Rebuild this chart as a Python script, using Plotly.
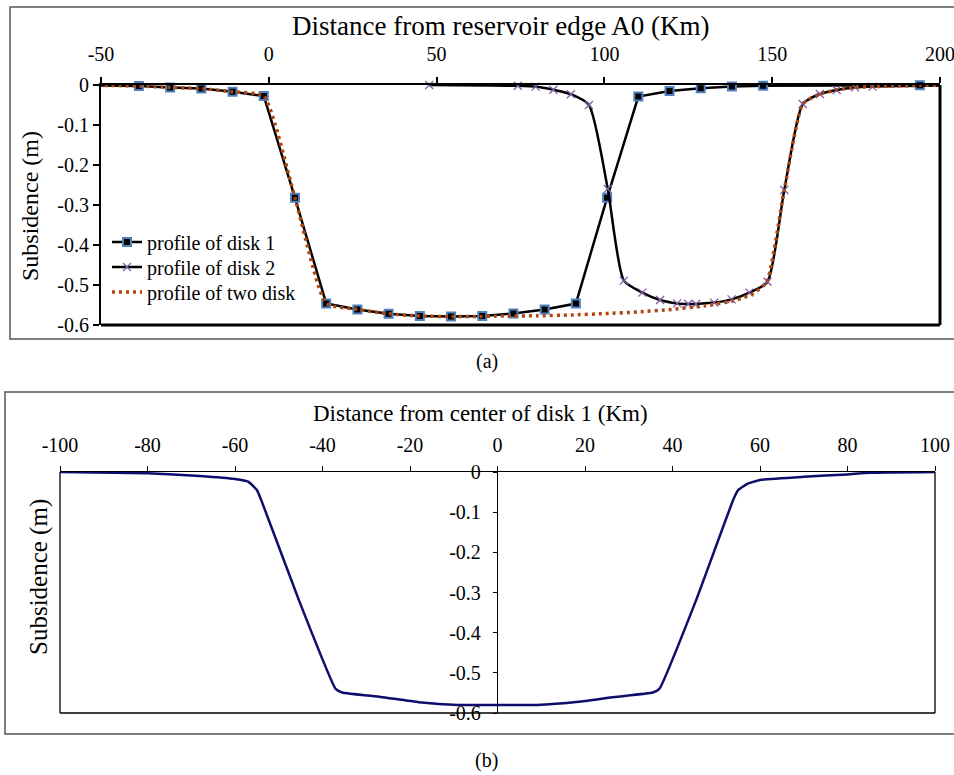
import plotly.graph_objects as go

# ---------------- data : panel (a) ----------------
disk1_x = [-57.3, -38.7, -29.4, -20.1, -10.8, -1.5, 7.8, 17.1, 26.4, 35.7, 45.0, 54.3,
           63.6, 72.9, 82.2, 91.5, 100.8, 110.1, 119.4, 128.7, 138.0, 147.3, 194.0, 203.3]
disk1_y = [0, -0.0025, -0.006, -0.009, -0.017, -0.0275, -0.282, -0.546, -0.561, -0.572, -0.5775, -0.579,
           -0.5775, -0.5715, -0.561, -0.5465, -0.282, -0.029, -0.015, -0.008, -0.004, -0.002, -0.0005, 0]

disk2_x = [47.8, 74.2, 79.5, 84.8, 90.0, 95.4, 101.0, 105.8, 111.3, 116.6, 121.7, 125.0,
           127.3, 132.7, 137.9, 143.2, 148.6, 153.6, 159.1, 164.2, 169.2, 174.7, 179.9, 206.6]
disk2_y = [0, -0.002, -0.004, -0.012, -0.023, -0.05, -0.26, -0.489, -0.519, -0.5375, -0.546, -0.5475,
           -0.5475, -0.544, -0.536, -0.519, -0.492, -0.2625, -0.0475, -0.0225, -0.0125, -0.006, -0.004, 0]

two_x = [-57.3, -38.7, -29.4, -20.1, -10.8, -1.5, 7.8, 17.1, 26.4, 35.7, 45.0, 54.3, 60, 70, 80, 90,
         100, 110, 120, 130, 139.4, 144.4, 148.4, 153.6, 159.1, 164.2, 169.2, 174.7, 179.9, 194, 206.6]
two_y = [0, -0.0025, -0.006, -0.009, -0.017, -0.0275, -0.282, -0.546, -0.561, -0.572, -0.5775, -0.579,
         -0.579, -0.5775, -0.577, -0.575, -0.5715, -0.5675, -0.561, -0.552, -0.5375, -0.521, -0.492,
         -0.2625, -0.0475, -0.0225, -0.0125, -0.006, -0.004, -0.001, 0]

a_xticks = [-50, 0, 50, 100, 150, 200]
a_xtext = ["-50", "0", "50", "100", "150", "200"]
a_yticks = [0, -0.1, -0.2, -0.3, -0.4, -0.5, -0.6]
a_ytext = ["0", "-0.1", "-0.2", "-0.3", "-0.4", "-0.5", "-0.6"]

# ---------------- data : panel (b) ----------------
b_x = [-100, -80, -68, -60, -57, -55, -54, -45.4, -37, -35.5, -26.7, -18, -9, 0,
       9, 18.5, 26.7, 35.5, 37, 45.4, 54, 55, 57, 60, 70, 80, 85, 100]
b_y = [0, -0.003, -0.01, -0.0175, -0.024, -0.045, -0.07, -0.319, -0.54, -0.549, -0.56, -0.573, -0.58, -0.58,
       -0.58, -0.572, -0.56, -0.549, -0.54, -0.319, -0.066, -0.045, -0.03, -0.02, -0.012, -0.006, -0.002, 0]

b_xticks = [-100, -80, -60, -40, -20, 0, 20, 40, 60, 80, 100]
b_xtext = ["-100", "-80", "-60", "-40", "-20", "0", "20", "40", "60", "80", "100"]
b_yticks = [0, -0.1, -0.2, -0.3, -0.4, -0.5, -0.6]
b_ytext = ["0", "-0.1", "-0.2", "-0.3", "-0.4", "-0.5", "-0.6"]

W, H = 954, 775
FONT = "Liberation Serif, Times New Roman, serif"


def px_x(p):
    return p / W


def px_y(p):
    return 1 - p / H


fig = go.Figure()

fig.add_trace(go.Scatter(
    x=disk1_x, y=disk1_y, name="profile of disk 1", mode="lines+markers",
    line=dict(color="black", width=2.5),
    marker=dict(symbol="square", size=8, color="black", line=dict(color="#4F81BD", width=2)),
    cliponaxis=False, xaxis="x", yaxis="y", legend="legend"))

fig.add_trace(go.Scatter(
    x=disk2_x, y=disk2_y, name="profile of disk 2", mode="lines+markers",
    line=dict(color="black", width=2.5, shape="spline", smoothing=0.6),
    marker=dict(symbol="x-thin", size=8, color="#7F60A8", line=dict(color="#7F60A8", width=1.3)),
    cliponaxis=False, xaxis="x", yaxis="y", legend="legend2"))

fig.add_trace(go.Scatter(
    x=two_x, y=two_y, name="profile of two disk", mode="lines",
    line=dict(color="#B0450F", width=3.5, dash="3px,4px", shape="spline", smoothing=0.5),
    cliponaxis=False, xaxis="x", yaxis="y", legend="legend3"))

fig.add_trace(go.Scatter(
    x=b_x, y=b_y, name="disk 1", mode="lines", showlegend=False,
    line=dict(color="#0D0D6B", width=2.5, shape="spline", smoothing=0.4),
    xaxis="x2", yaxis="y2"))

a_dom_x = [px_x(101), px_x(940)]
a_dom_y = [px_y(325), px_y(85)]
b_dom_x = [px_x(60), px_x(935)]
b_dom_y = [px_y(713), px_y(472)]

tick_font = dict(family=FONT, size=20, color="black")


def leg(ypx):
    return dict(x=px_x(107), y=px_y(ypx), xanchor="left", yanchor="middle",
                bgcolor="rgba(0,0,0,0)", font=dict(family=FONT, size=20, color="black"),
                itemwidth=30)


fig.update_layout(
    width=W, height=H, margin=dict(l=0, r=0, t=0, b=0, autoexpand=False),
    paper_bgcolor="white", plot_bgcolor="white",
    font=dict(family=FONT, color="black"),
    xaxis=dict(domain=a_dom_x, range=[-50, 200], anchor="y", side="top", automargin=False,
               showline=True, linecolor="black", linewidth=2.2,
               ticks="outside", ticklen=6, tickwidth=2, tickcolor="black",
               tickvals=a_xticks, ticktext=a_xtext, tickfont=tick_font,
               ticklabelstandoff=8, ticklabeloverflow="allow",
               showgrid=False, zeroline=False),
    xaxis3=dict(overlaying="x", range=[-50, 200], anchor="y", side="top", automargin=False,
                showline=False, ticks="inside", ticklen=6, tickwidth=2, tickcolor="black",
                tickvals=a_xticks, showticklabels=False, showgrid=False, zeroline=False),
    yaxis=dict(domain=a_dom_y, range=[-0.6, 0], anchor="x", automargin=False,
               showline=True, linecolor="black", linewidth=2.2,
               ticks="outside", ticklen=6, tickwidth=2, tickcolor="black",
               tickvals=a_yticks, ticktext=a_ytext, tickfont=tick_font,
               ticklabeloverflow="allow", showgrid=False, zeroline=False),
    xaxis2=dict(domain=b_dom_x, range=[-100, 100], anchor="y2", side="top", automargin=False,
                showline=True, linecolor="black", linewidth=1.3,
                ticks="outside", ticklen=5, tickwidth=1.3, tickcolor="black",
                tickvals=b_xticks, ticktext=b_xtext, tickfont=tick_font,
                ticklabelstandoff=6, ticklabeloverflow="allow",
                showgrid=False, zeroline=False),
    xaxis4=dict(overlaying="x2", range=[-100, 100], anchor="y2", side="top", automargin=False,
                showline=False, ticks="inside", ticklen=5, tickwidth=1.3, tickcolor="black",
                tickvals=b_xticks, showticklabels=False, showgrid=False, zeroline=False),
    yaxis2=dict(domain=b_dom_y, range=[-0.6, 0], anchor="free", position=px_x(497), automargin=False,
                showline=True, linecolor="black", linewidth=1.3,
                ticks="outside", ticklen=4, tickwidth=1.3, tickcolor="black",
                tickvals=b_yticks, ticktext=b_ytext, tickfont=tick_font,
                ticklabelstandoff=8, ticklabeloverflow="allow",
                showgrid=False, zeroline=False),
    legend=leg(242), legend2=leg(267), legend3=leg(292),
    showlegend=True,
)

shapes = [
    # panel (a) plot box: right and bottom borders
    dict(type="line", xref="x domain", yref="y domain", x0=1, x1=1, y0=0, y1=1,
         line=dict(color="black", width=3)),
    dict(type="line", xref="x domain", yref="y domain", x0=0, x1=1, y0=0, y1=0,
         line=dict(color="black", width=3)),
    # panel (b) plot box
    dict(type="line", xref="x2 domain", yref="y2 domain", x0=0, x1=0, y0=0, y1=1,
         line=dict(color="black", width=1.3)),
    dict(type="line", xref="x2 domain", yref="y2 domain", x0=1, x1=1, y0=0, y1=1,
         line=dict(color="black", width=1.3)),
    dict(type="line", xref="x2 domain", yref="y2 domain", x0=0, x1=1, y0=0, y1=0,
         line=dict(color="black", width=1.3)),
    # outer frames
    dict(type="rect", xref="paper", yref="paper", x0=px_x(10), x1=1.02, y0=px_y(339), y1=px_y(7),
         line=dict(color="#555555", width=1.5), layer="below"),
    dict(type="rect", xref="paper", yref="paper", x0=px_x(5), x1=1.02, y0=px_y(734), y1=px_y(392),
         line=dict(color="#555555", width=1.5), layer="below"),
]
fig.update_layout(shapes=shapes)

annotations = [
    dict(text="Distance from reservoir edge A0 (Km)", x=px_x(501), y=px_y(26),
         font=dict(family=FONT, size=27, color="black")),
    dict(text="Subsidence (m)", x=px_x(30), y=px_y(206), textangle=-90,
         font=dict(family=FONT, size=24, color="black")),
    dict(text="(a)", x=px_x(487), y=px_y(361),
         font=dict(family=FONT, size=20, color="black")),
    dict(text="Distance from center of disk 1 (Km)", x=px_x(480), y=px_y(413),
         font=dict(family=FONT, size=23, color="black")),
    dict(text="Subsidence (m)", x=px_x(39), y=px_y(577), textangle=-90,
         font=dict(family=FONT, size=25, color="black")),
    dict(text="(b)", x=px_x(487), y=px_y(760),
         font=dict(family=FONT, size=20, color="black")),
]
for a in annotations:
    a.update(xref="paper", yref="paper", showarrow=False, xanchor="center", yanchor="middle")
fig.update_layout(annotations=annotations)

fig.write_html("out.html", config={"displayModeBar": False},
               post_script="document.body.style.margin='0';document.body.style.overflow='hidden';")
